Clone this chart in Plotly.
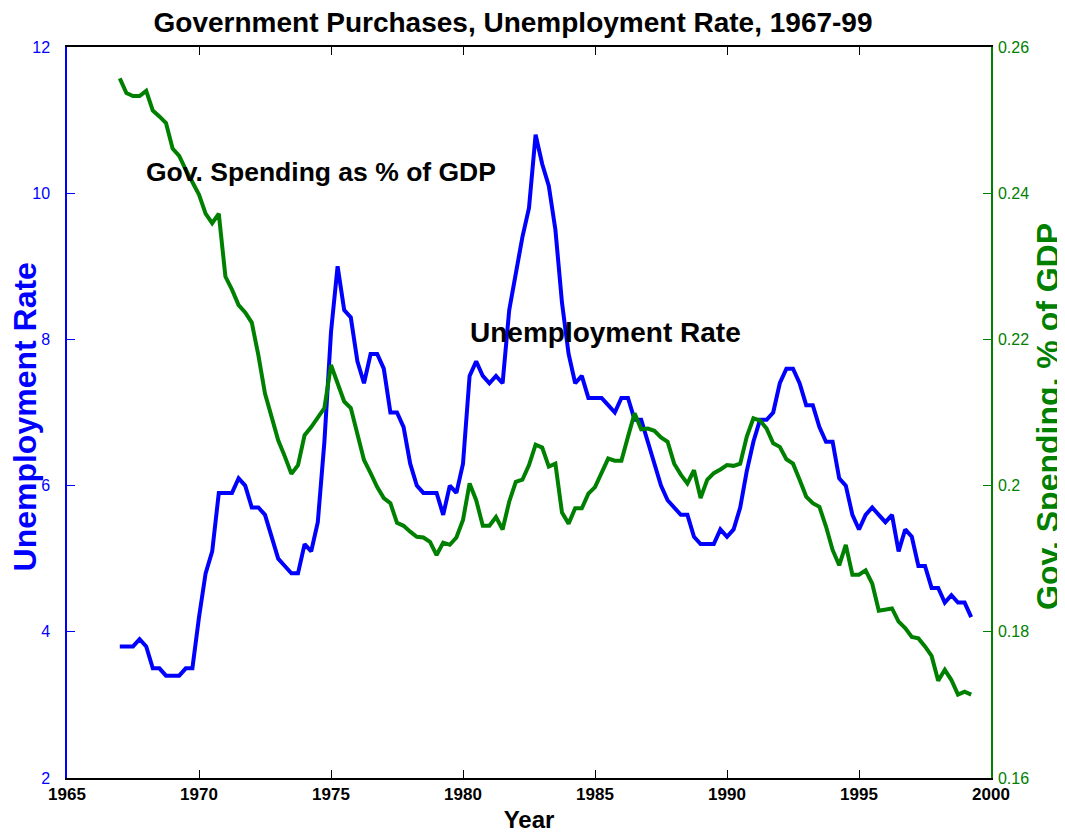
import plotly.graph_objects as go

# quarterly observations, 1967Q1 - 1999Q2
start_year = 1967
n_quarters = 130

unemployment = [
    3.8, 3.8, 3.8, 3.9,
    3.8, 3.5, 3.5, 3.4,
    3.4, 3.4, 3.5, 3.5,
    4.2, 4.8, 5.1, 5.9,
    5.9, 5.9, 6.1, 6.0,
    5.7, 5.7, 5.6, 5.3,
    5.0, 4.9, 4.8, 4.8,
    5.2, 5.1, 5.5, 6.6,
    8.1, 9.0, 8.4, 8.3,
    7.7, 7.4, 7.8, 7.8,
    7.6, 7.0, 7.0, 6.8,
    6.3, 6.0, 5.9, 5.9,
    5.9, 5.6, 6.0, 5.9,
    6.3, 7.5, 7.7, 7.5,
    7.4, 7.5, 7.4, 8.4,
    8.9, 9.4, 9.8, 10.8,
    10.4, 10.1, 9.5, 8.5,
    7.8, 7.4, 7.5, 7.2,
    7.2, 7.2, 7.1, 7.0,
    7.2, 7.2, 6.9, 6.9,
    6.6, 6.3, 6.0, 5.8,
    5.7, 5.6, 5.6, 5.3,
    5.2, 5.2, 5.2, 5.4,
    5.3, 5.4, 5.7, 6.2,
    6.6, 6.9, 6.9, 7.0,
    7.4, 7.6, 7.6, 7.4,
    7.1, 7.1, 6.8, 6.6,
    6.6, 6.1, 6.0, 5.6,
    5.4, 5.6, 5.7, 5.6,
    5.5, 5.6, 5.1, 5.4,
    5.3, 4.9, 4.9, 4.6,
    4.6, 4.4, 4.5, 4.4,
    4.4, 4.2,
]

gov_share = [
    0.2557, 0.2537, 0.2533, 0.2533,
    0.2540, 0.2513, 0.2505, 0.2496,
    0.2461, 0.2451, 0.2432, 0.2416,
    0.2398, 0.2372, 0.2359, 0.2372,
    0.2286, 0.2268, 0.2247, 0.2237,
    0.2223, 0.2178, 0.2126, 0.2094,
    0.2062, 0.2040, 0.2016, 0.2028,
    0.2069, 0.2080, 0.2094, 0.2106,
    0.2165, 0.2140, 0.2115, 0.2106,
    0.2070, 0.2035, 0.2017, 0.1998,
    0.1983, 0.1976, 0.1949, 0.1945,
    0.1937, 0.1930, 0.1929, 0.1923,
    0.1905, 0.1922, 0.1919, 0.1929,
    0.1953, 0.2003, 0.1980, 0.1945,
    0.1945, 0.1957, 0.1940, 0.1978,
    0.2005, 0.2008, 0.2028, 0.2056,
    0.2052, 0.2026, 0.2030, 0.1963,
    0.1948, 0.1969, 0.1969, 0.1989,
    0.1998, 0.2019, 0.2037, 0.2034,
    0.2034, 0.2067, 0.2099, 0.2077,
    0.2078, 0.2075, 0.2066, 0.2060,
    0.2030, 0.2015, 0.2003, 0.2021,
    0.1983, 0.2008, 0.2017, 0.2022,
    0.2028, 0.2027, 0.2030, 0.2067,
    0.2092, 0.2089, 0.2078, 0.2058,
    0.2053, 0.2036, 0.2030, 0.2008,
    0.1985, 0.1976, 0.1971, 0.1944,
    0.1912, 0.1891, 0.1919, 0.1878,
    0.1878, 0.1884, 0.1866, 0.1829,
    0.1831, 0.1832, 0.1814, 0.1805,
    0.1793, 0.1791, 0.1780, 0.1767,
    0.1733, 0.1748, 0.1734, 0.1714,
    0.1718, 0.1714,
]

years = [start_year + i / 4 for i in range(n_quarters)]

BLUE = "#0000FF"
GREEN = "#008000"
FONT = "Arial, Liberation Sans, Helvetica, sans-serif"

fig = go.Figure()

fig.add_trace(go.Scatter(x=years, y=unemployment,
                         mode="lines",
                         name="Unemployment Rate",
                         line=dict(color=BLUE, width=4),
                         showlegend=False))

fig.add_trace(go.Scatter(x=years, y=gov_share,
                         mode="lines",
                         name="Gov. Spending as % of GDP",
                         yaxis="y2",
                         line=dict(color=GREEN, width=4),
                         showlegend=False))

# in-plot labels
fig.add_annotation(x=1967.9, y=10.29, xref="x", yref="y",
                   text="Gov. Spending as % of GDP", showarrow=False,
                   xanchor="left", yanchor="middle",
                   font=dict(family=FONT, size=26.5, color="black", weight="bold"))
fig.add_annotation(x=1980.2, y=8.1, xref="x", yref="y",
                   text="Unemployment Rate", showarrow=False,
                   xanchor="left", yanchor="middle",
                   font=dict(family=FONT, size=28, color="black", weight="bold"))

# axis titles placed by hand (they sit close to the tick label column, as in the original)
fig.add_annotation(x=-0.0455, y=0.4945, xref="paper", yref="paper",
                   text="Unemployment Rate", showarrow=False, textangle=-90,
                   xanchor="center", yanchor="middle",
                   font=dict(family=FONT, size=32, color=BLUE, weight="bold"))
fig.add_annotation(x=1.0617, y=0.494, xref="paper", yref="paper",
                   text="Gov. Spending, % of GDP", showarrow=False, textangle=-90,
                   xanchor="center", yanchor="middle",
                   font=dict(family=FONT, size=32, color=GREEN, weight="bold"))

# page body adds an 8px offset, so the figure is 8px smaller than the window
fig.update_layout(
    width=1057, height=827,
    margin=dict(l=59, r=74, t=39, b=57, autoexpand=False),
    paper_bgcolor="white",
    plot_bgcolor="white",
    title=dict(text="Government Purchases, Unemployment Rate, 1967-99",
               x=0.4778, xanchor="center", y=0.9828, yanchor="middle",
               automargin=False,
               font=dict(family=FONT, size=28, color="black", weight="bold")),
    xaxis=dict(range=[1965, 2000], tick0=1965, dtick=5, automargin=False,
               showline=True, linecolor="black", linewidth=2, mirror="ticks",
               ticks="inside", ticklen=8, tickcolor="black", tickwidth=1,
               showgrid=False, zeroline=False,
               tickfont=dict(family=FONT, size=17, color="black", weight="bold"),
               title=dict(text="Year", standoff=8,
                          font=dict(family=FONT, size=24, color="black", weight="bold"))),
    yaxis=dict(range=[2, 12], tick0=2, dtick=2, automargin=False,
               showline=True, linecolor=BLUE, linewidth=1.5,
               ticks="inside", ticklen=8, tickcolor=BLUE, tickwidth=1,
               ticklabelstandoff=12,
               showgrid=False, zeroline=False,
               tickfont=dict(family=FONT, size=16, color=BLUE)),
    yaxis2=dict(range=[0.16, 0.26], tick0=0.16, dtick=0.02, automargin=False,
                overlaying="y", side="right",
                showline=True, linecolor=GREEN, linewidth=1.5,
                ticks="inside", ticklen=8, tickcolor=GREEN, tickwidth=1,
                ticklabelstandoff=2,
                showgrid=False, zeroline=False,
                tickfont=dict(family=FONT, size=16, color=GREEN)),
)

fig.write_html("out.html")
